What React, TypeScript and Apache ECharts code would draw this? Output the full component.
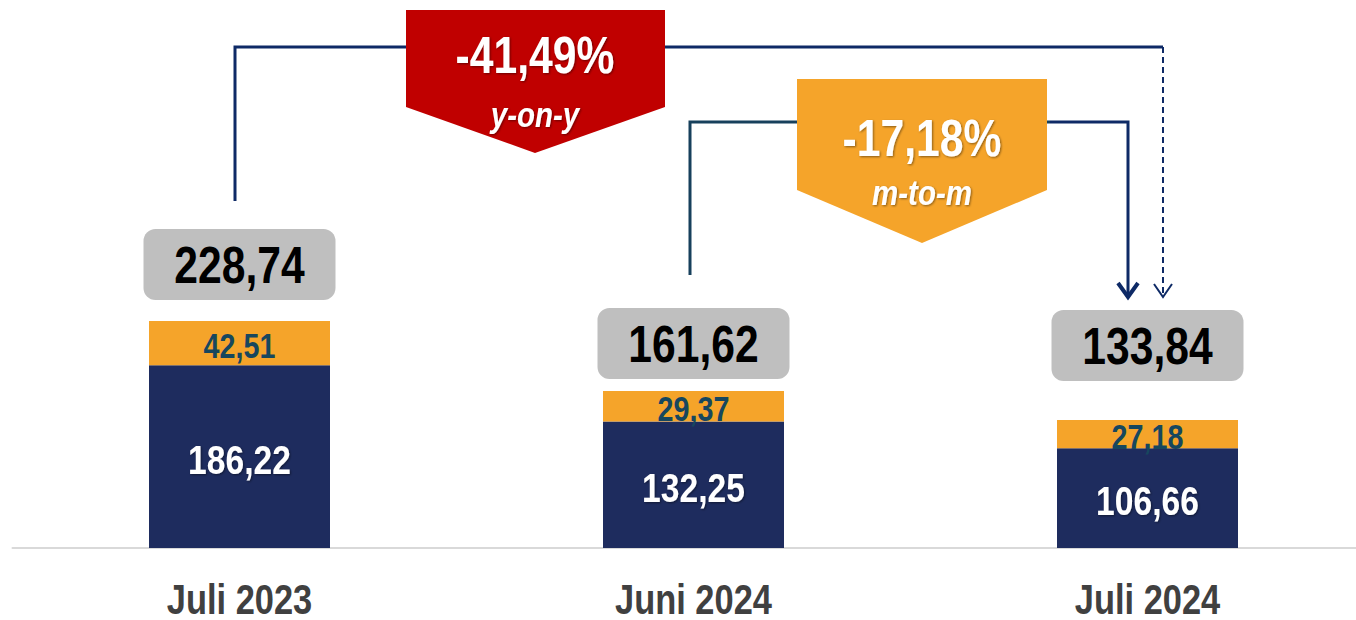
import React, { useEffect, useRef } from "react";
import * as echarts from "echarts";

const categories = ["Juli 2023", "Juni 2024", "Juli 2024"];
const baseValues = [186.22, 132.25, 106.66];
const topValues = [42.51, 29.37, 27.18];
const totalValues = [228.74, 161.62, 133.84];
const changeYoY = "-41,49%";
const changeMoM = "-17,18%";

const FONT = "'Liberation Sans', Arial, sans-serif";
const NARROW = 0.82;
const NAVY = "#1E2C5E";
const ORANGE = "#F5A42A";
const Y_MIN = 11;
const fmt = (v: number) => v.toFixed(2).replace(".", ",");

export default function App() {
  const ref = useRef<HTMLDivElement>(null);
  useEffect(() => {
    if (!ref.current) return;
    const chart = echarts.init(ref.current, undefined, { renderer: "svg" });
    const shadow = { textShadowColor: "rgba(0,0,0,0.45)", textShadowBlur: 2, textShadowOffsetX: 1, textShadowOffsetY: 1 };
    chart.setOption({
      animation: false,
      grid: { left: 12.5, width: 1362, top: 10, bottom: 72 },
      xAxis: {
        type: "category",
        data: categories,
        axisLine: { lineStyle: { color: "#D9D9D9", width: 2 } },
        axisTick: { show: false },
        axisLabel: { show: false },
      },
      yAxis: { type: "value", min: Y_MIN, max: 527, show: false, splitLine: { show: false } },
      series: [
        { type: "bar", stack: "t", barWidth: 181, data: baseValues, itemStyle: { color: NAVY }, silent: true },
        { type: "bar", stack: "t", barWidth: 181, data: topValues, itemStyle: { color: ORANGE }, silent: true },
      ],
    });

    const px = (i: number, v: number) => chart.convertToPixel({ gridIndex: 0 }, [i, v]) as number[];
    const narrowText = (x: number, y: number, text: string, size: number, color: string, extra: any = {}, italic = false) => ({
      type: "text",
      z: 20,
      x,
      y,
      scaleX: NARROW,
      style: {
        text,
        fill: color,
        font: `${italic ? "italic " : ""}bold ${size}px ${FONT}`,
        align: "center",
        verticalAlign: "middle",
        ...extra,
      },
    });

    const totalGaps = [21, 12, 39];
    const dataGraphics: any[] = [];
    categories.forEach((c, i) => {
      const [xc, yBase] = px(i, Y_MIN);
      const [, yMid] = px(i, baseValues[i]);
      const [, yTop] = px(i, baseValues[i] + topValues[i]);
      dataGraphics.push(narrowText(xc, (yBase + yMid) / 2 + 3, fmt(baseValues[i]), 41, "#fff", shadow));
      dataGraphics.push(narrowText(xc, (yMid + yTop) / 2 + 3, fmt(topValues[i]), 35, "#17475E"));
      const boxBottom = yTop - totalGaps[i];
      dataGraphics.push({
        type: "rect",
        z: 15,
        shape: { x: xc - 96, y: boxBottom - 71, width: 192, height: 71, r: 12 },
        style: { fill: "#BFBFBF" },
      });
      dataGraphics.push(narrowText(xc, boxBottom - 35, fmt(totalValues[i]), 52, "#000"));
      dataGraphics.push(narrowText(xc, yBase + 51, c, 42, "#404040"));
    });

    chart.setOption({
      graphic: [
        { type: "polyline", shape: { points: [[235, 201], [235, 47], [1163, 47]] }, style: { stroke: "#0E2A66", lineWidth: 3, fill: null } },
        { type: "line", shape: { x1: 1163, y1: 47, x2: 1163, y2: 296 }, style: { stroke: "#0E2A66", lineWidth: 2, lineDash: [6, 4] } },
        { type: "polyline", shape: { points: [[1154, 284], [1163, 297], [1172, 284]] }, style: { stroke: "#0E2A66", lineWidth: 2, fill: null } },
        { type: "polyline", shape: { points: [[690, 275], [690, 122], [1050, 122]] }, style: { stroke: "#17405C", lineWidth: 3, fill: null } },
        { type: "polyline", shape: { points: [[1050, 122], [1128, 122], [1128, 296]] }, style: { stroke: "#0E2A66", lineWidth: 3, fill: null } },
        { type: "polyline", shape: { points: [[1118, 283], [1128, 297], [1138, 283]] }, style: { stroke: "#0E2A66", lineWidth: 4, fill: null } },
        { type: "polygon", z: 10, shape: { points: [[406, 10], [665, 10], [665, 107], [535, 153], [406, 107]] }, style: { fill: "#C00000" } },
        narrowText(535, 55, changeYoY, 52, "#fff", shadow),
        narrowText(535, 114, "y-on-y", 36, "#fff", shadow, true),
        { type: "polygon", z: 10, shape: { points: [[797, 79], [1047, 79], [1047, 190], [922, 243], [797, 190]] }, style: { fill: ORANGE } },
        narrowText(922, 138, changeMoM, 52, "#fff", shadow),
        narrowText(922, 192, "m-to-m", 36, "#fff", shadow, true),
        ...dataGraphics,
      ],
    });
    return () => chart.dispose();
  }, []);
  return (
    <div style={{ position: "absolute", left: 0, top: 0, width: 1356, height: 620, overflow: "hidden" }}>
      <div ref={ref} style={{ width: 1380, height: 620 }} />
    </div>
  );
}
